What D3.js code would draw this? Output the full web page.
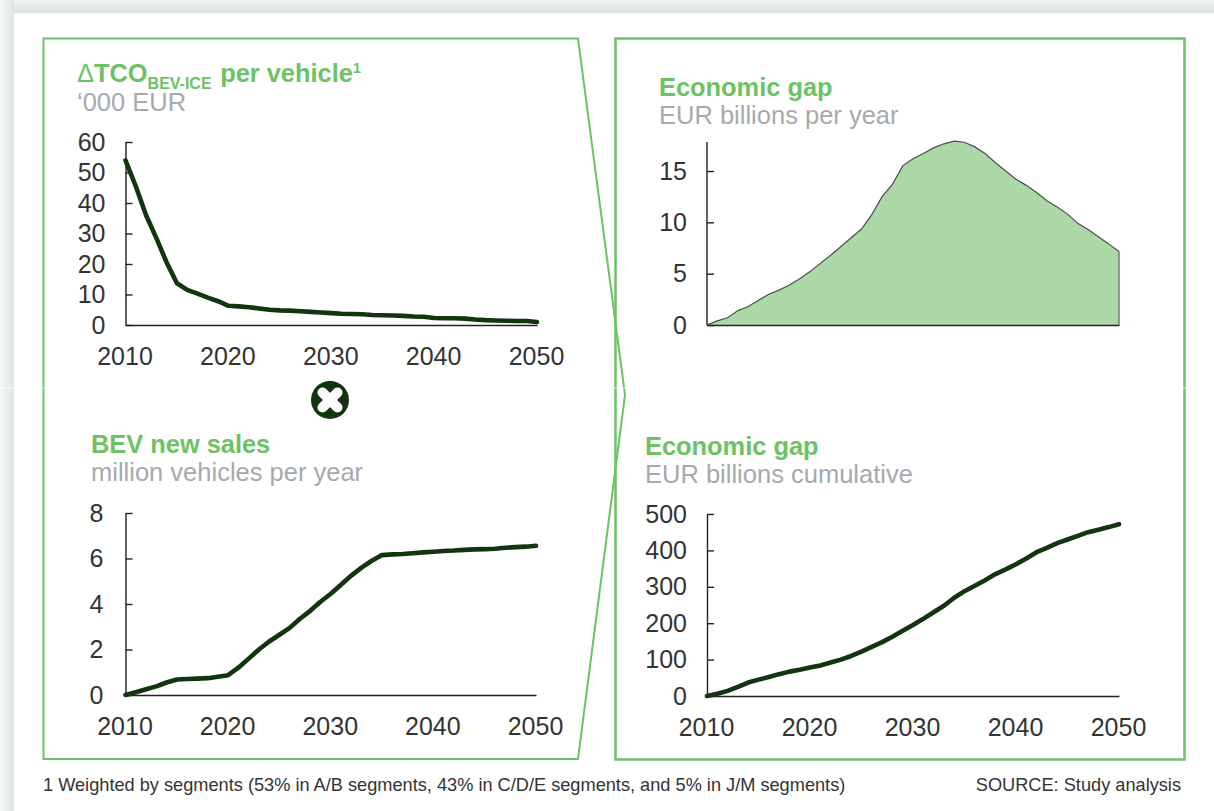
<!DOCTYPE html>
<html><head><meta charset="utf-8">
<script src="https://cdn.jsdelivr.net/npm/d3@7"></script>
<style>html,body{margin:0;padding:0;background:#fff}svg{display:block}text{font-family:"Liberation Sans",Arial,sans-serif}</style>
</head><body><svg id="c" width="1214" height="811"></svg>
<script>
const years = d3.range(2010, 2051);
const xTicks = [2010, 2020, 2030, 2040, 2050];
const tcoValues = [54,45.5,36,28.5,20.5,13.7,11.5,10.3,9,7.8,6.3,6.1,5.8,5.4,5,4.8,4.7,4.5,4.3,4.1,3.9,3.7,3.6,3.5,3.3,3.2,3.1,3,2.8,2.7,2.3,2.2,2.2,2.1,1.8,1.6,1.5,1.4,1.3,1.3,1];
const perYearValues = [0,0.4,0.7,1.4,1.8,2.4,3.0,3.4,3.9,4.5,5.2,6.0,6.8,7.65,8.5,9.35,10.75,12.5,13.7,15.5,16.2,16.7,17.25,17.65,17.9,17.8,17.35,16.7,15.8,15,14.2,13.6,12.9,12.1,11.5,10.8,9.9,9.3,8.6,7.9,7.15];
const salesValues = [0,0.12,0.25,0.38,0.55,0.68,0.7,0.72,0.74,0.8,0.87,1.2,1.6,2.0,2.35,2.65,2.95,3.35,3.7,4.1,4.45,4.85,5.25,5.6,5.9,6.15,6.18,6.2,6.23,6.27,6.3,6.33,6.35,6.38,6.4,6.41,6.43,6.47,6.5,6.52,6.56];
const cumulativeValues = [0,6,14,25,37,45,52,60,67,72,78,84,92,100,110,122,135,148,163,179,195,212,230,248,270,288,303,318,335,348,362,378,395,407,420,430,440,450,457,464,472];
const tcoTicks = [0,10,20,30,40,50,60];
const perYearTicks = [0,5,10,15];
const salesTicks = [0,2,4,6,8];
const cumulativeTicks = [0,100,200,300,400,500];

const GREEN="#6cc265", GREY="#a7a9ac", DARK="#12340f", INK="#333333";
const svg=d3.select("#c");

// page card
const defs=svg.append("defs");
const gt=defs.append("linearGradient").attr("id","gt").attr("x1",0).attr("y1",0).attr("x2",0).attr("y2",1);
gt.append("stop").attr("offset",0).attr("stop-color","#f3f5f4");
gt.append("stop").attr("offset",1).attr("stop-color","#d8e2df");
const gl=defs.append("linearGradient").attr("id","gl").attr("x1",0).attr("y1",0).attr("x2",1).attr("y2",0);
gl.append("stop").attr("offset",0).attr("stop-color","#f6f8f7");
gl.append("stop").attr("offset",1).attr("stop-color","#dce5e2");
svg.append("rect").attr("x",0).attr("y",0).attr("width",1214).attr("height",13).attr("fill","url(#gt)");
svg.append("rect").attr("x",0).attr("y",0).attr("width",14).attr("height",811).attr("fill","url(#gl)");

// frames
const frame=d3.line();
svg.append("path").attr("d",frame([[43.5,38.5],[578,38.5],[625,395],[578,759],[43.5,759]])+"Z")
  .attr("fill","none").attr("stroke",GREEN).attr("stroke-width",2);
svg.append("rect").attr("x",615.5).attr("y",38.5).attr("width",569).attr("height",721)
  .attr("fill","none").attr("stroke",GREEN).attr("stroke-width",2.5);
svg.append("line").attr("x1",0).attr("x2",1214).attr("y1",388).attr("y2",388).attr("stroke","#fff").attr("stroke-opacity",.8);

function chart(o){
  const x=d3.scaleLinear().domain([2010,2050]).range([o.x0,o.x1]);
  const y=d3.scaleLinear().domain(o.domain).range([o.y0,o.yTop]);
  const g=svg.append("g");
  if(o.area){
    g.append("path").datum(o.values)
     .attr("d",d3.area().x((d,i)=>x(years[i])).y0(y(0)).y1(d=>y(d)))
     .attr("fill","#acd8a7");
    g.append("path").datum(o.values)
     .attr("d",d3.line().x((d,i)=>x(years[i])).y(d=>y(d)))
     .attr("fill","none").attr("stroke","#4a4f4a").attr("stroke-width",1.2);
    g.append("line").attr("x1",x(2050)).attr("x2",x(2050)).attr("y1",y(o.values[40])).attr("y2",y(0))
     .attr("stroke","#777").attr("stroke-width",1.5);
  }
  const ya=g.append("g").attr("transform",`translate(${o.x0},0)`)
    .call(d3.axisLeft(y).tickValues(o.ticks).tickSizeInner(-7).tickSizeOuter(0).tickPadding(o.yPad));
  ya.selectAll("text").attr("font-size",25).attr("fill",INK).attr("font-family",'"Liberation Sans",Arial,sans-serif');
  ya.selectAll("line,path").attr("stroke","#222").attr("stroke-width",1.4);
  if(o.area) ya.select("path").attr("d",`M0,${o.yTop-29}V${o.y0}`);
  const xa=g.append("g").attr("transform",`translate(0,${o.y0})`)
    .call(d3.axisBottom(x).tickValues(o.xlabels?xTicks:[]).tickSize(0).tickPadding(22).tickFormat(d3.format("d")));
  xa.selectAll("text").attr("font-size",25).attr("dx",-1).attr("fill",INK).attr("font-family",'"Liberation Sans",Arial,sans-serif');
  xa.select("path").attr("stroke","#222").attr("stroke-width",1.4);
  if(!o.area){
    g.append("path").datum(o.values)
     .attr("d",d3.line().x((d,i)=>x(years[i])).y(d=>y(d)))
     .attr("fill","none").attr("stroke",DARK).attr("stroke-width",4.6).attr("stroke-linejoin","round").attr("stroke-linecap","round");
  }
}
chart({x0:125.5,x1:537,y0:325,yTop:142,domain:[0,60],ticks:tcoTicks,values:tcoValues,xlabels:true,yPad:20});
chart({x0:707,x1:1119,y0:325,yTop:171,domain:[0,15],ticks:perYearTicks,values:perYearValues,area:true,xlabels:false,yPad:20});
chart({x0:125.5,x1:536,y0:695,yTop:513,domain:[0,8],ticks:salesTicks,values:salesValues,xlabels:true,yPad:22});
chart({x0:707,x1:1119,y0:696,yTop:514,domain:[0,500],ticks:cumulativeTicks,values:cumulativeValues,xlabels:true,yPad:20});

function title(x,y,t,s){
  svg.append("text").attr("x",x).attr("y",y).attr("font-size",25.4).attr("font-weight","bold").attr("fill",GREEN).text(t);
  svg.append("text").attr("x",x).attr("y",y+28).attr("font-size",25.5).attr("fill",GREY).text(s);
}
const t1=svg.append("text").attr("x",77).attr("y",82).attr("font-size",25.4).attr("font-weight","bold").attr("fill",GREEN);
t1.append("tspan").attr("font-weight","normal").text("Δ");
t1.append("tspan").text("TCO");
t1.append("tspan").attr("font-size",16).attr("dy",7).text("BEV-ICE");
t1.append("tspan").attr("dy",-7).attr("dx",1.5).text(" per vehicle");
t1.append("tspan").attr("font-size",15).attr("dy",-9).text("1");
svg.append("text").attr("x",77).attr("y",111).attr("font-size",25.5).attr("fill",GREY).text("‘000 EUR");
title(659,96,"Economic gap","EUR billions per year");
title(91,453,"BEV new sales","million vehicles per year");
title(645,455,"Economic gap","EUR billions cumulative");

// multiply icon
const icon=svg.append("g").attr("transform","translate(330,400)");
icon.append("circle").attr("r",19).attr("fill",DARK);
[[-7.5,-7.5,7.5,7.5],[-7.5,7.5,7.5,-7.5]].forEach(l=>icon.append("line")
  .attr("x1",l[0]).attr("y1",l[1]).attr("x2",l[2]).attr("y2",l[3])
  .attr("stroke","#fff").attr("stroke-width",10).attr("stroke-linecap","round"));

svg.append("text").attr("x",43).attr("y",791).attr("font-size",18.2).attr("fill",INK)
  .text("1 Weighted by segments (53% in A/B segments, 43% in C/D/E segments, and 5% in J/M segments)");
svg.append("text").attr("x",1181).attr("y",791).attr("text-anchor","end").attr("font-size",18.2).attr("fill",INK)
  .text("SOURCE: Study analysis");
</script></body></html>
